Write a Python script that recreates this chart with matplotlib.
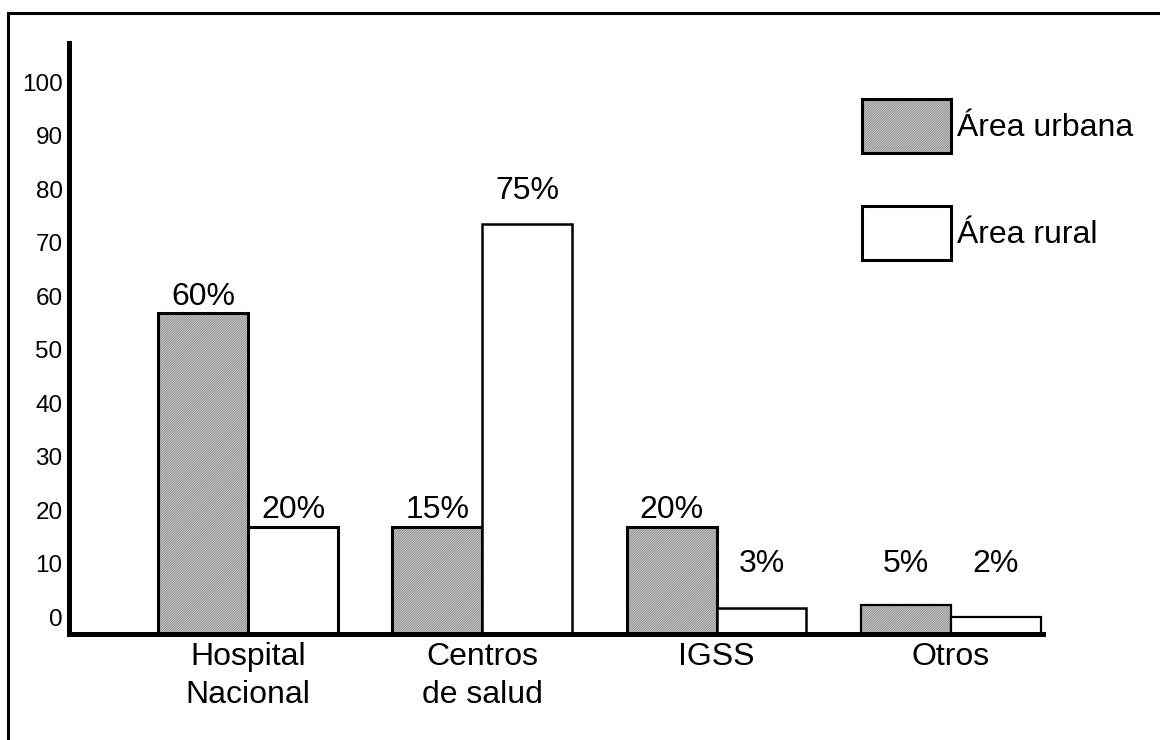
import matplotlib
matplotlib.use("Agg")
import numpy as np
import matplotlib.pyplot as plt
import matplotlib.transforms as mtransforms
from matplotlib.lines import Line2D
from matplotlib.patches import Patch

plt.rcParams['font.family'] = ['Liberation Sans', 'DejaVu Sans']
plt.rcParams['hatch.color'] = '#909090'
plt.rcParams['hatch.linewidth'] = 0.6

# data (bar heights as drawn, labels as printed)
categories = ["Hospital\nNacional", "Centros\nde salud", "IGSS", "Otros"]
urbana = [60, 20, 20, 5.3]
rural = [20, 76.5, 4.8, 3.1]
urbana_txt = ["60%", "15%", "20%", "5%"]
rural_txt = ["20%", "75%", "3%", "2%"]
yticks = list(range(0, 101, 10))

fig = plt.figure(figsize=(11.6, 7.4), dpi=100)
ax = fig.add_axes([0.0599, 0.1439, 0.8391, 0.7981])

x = np.arange(len(categories))
w = 0.384
lw_u = [2.2, 2.2, 2.2, 1.6]
lw_r = [2.2, 1.8, 1.8, 1.6]
big = 23

# grey dithered fill, then black outline on top
ax.bar(x - w/2, urbana, w, color='#c8c8c8', hatch='/' * 14, edgecolor='#909090', linewidth=0)
ax.bar(x - w/2, urbana, w, fill=False, edgecolor='black', linewidth=lw_u)
ax.bar(x + w/2, rural, w, color='white', edgecolor='black', linewidth=lw_r)

# percent labels
lift_r = [0, 3.2, 0, 0]
for i in range(len(categories)):
    ax.text(x[i] - w/2, max(urbana[i], 10) + 1.5, urbana_txt[i], ha='center', va='baseline', fontsize=big)
    ax.text(x[i] + w/2, max(rural[i], 10) + 1.5 + lift_r[i], rural_txt[i], ha='center', va='baseline', fontsize=big)

ax.set_xlim(-0.762, 3.393)
ax.set_ylim(0, 110.4)
ax.set_yticks(yticks)
ax.set_xticks(x, categories)
ax.tick_params(axis='y', length=0, pad=5, labelsize=17.5)
ax.tick_params(axis='x', length=0, pad=6, labelsize=big)
for lbl in ax.get_xticklabels():
    lbl.set_linespacing(1.35)

# the y labels sit a little above their gridline in the original
shift = mtransforms.ScaledTranslation(0, 0.165, fig.dpi_scale_trans)
for lbl in ax.get_yticklabels():
    lbl.set_transform(lbl.get_transform() + shift)

for s in ['top', 'right']:
    ax.spines[s].set_visible(False)
for s in ['left', 'bottom']:
    ax.spines[s].set_linewidth(3.6)

h_fill = Patch(facecolor='#c8c8c8', hatch='/' * 14, edgecolor='#909090', linewidth=0)
h_line = Patch(fill=False, edgecolor='black', linewidth=2.2)
h_rural = Patch(facecolor='white', edgecolor='black', linewidth=2.2)
ax.legend([(h_fill, h_line), h_rural], ["Área urbana", "Área rural"],
          loc='upper left', bbox_to_anchor=(862/1160, 1 - 99/740), bbox_transform=fig.transFigure,
          frameon=False, fontsize=big, handlelength=2.78, handleheight=2.2,
          handletextpad=0.2, labelspacing=1.68, borderpad=0, borderaxespad=0)

# page border (top and left only)
fig.add_artist(Line2D([7.5/1160, 7.5/1160, 1], [0, 1 - 12.5/740, 1 - 12.5/740],
                      transform=fig.transFigure, color='black', lw=2.2, solid_joinstyle='miter'))

fig.savefig('out.png', dpi=100)
